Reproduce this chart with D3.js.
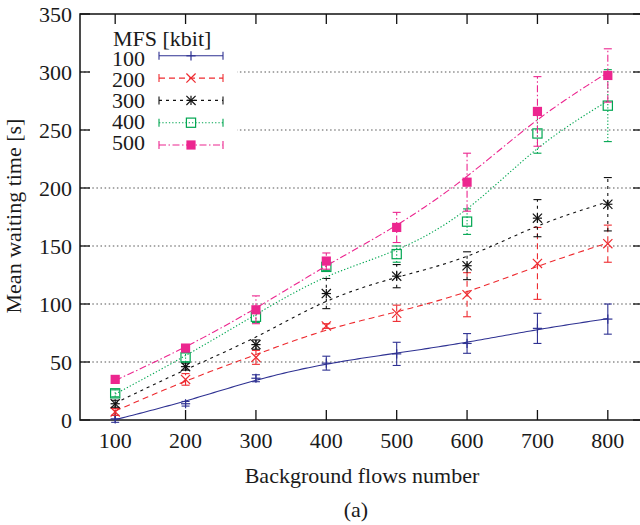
<!DOCTYPE html>
<html>
<head>
<meta charset="utf-8">
<script src="https://cdn.jsdelivr.net/npm/d3@7"></script>
<style>
  html, body { margin: 0; padding: 0; background: #fff; }
  svg { display: block; }
  text { font-family: "Liberation Serif", "Times New Roman", serif; fill: #1a1a1a; }
</style>
</head>
<body>
<svg id="chart" width="640" height="525"></svg>
<script>
// Background flow counts on the x axis
const flows = [100, 200, 300, 400, 500, 600, 700, 800];

// Mean waiting time [s] per MFS setting, with half-width of the error bar
const mfs100 = [1, 14, 36, 49, 57, 66, 79, 87];
const err100 = [3, 2, 3, 6, 10, 8.5, 13, 13];
const mfs200 = [7, 35, 54, 81, 92, 108, 135, 152];
const err200 = [3, 5, 6, 2, 7, 19, 31, 16];
const mfs300 = [14, 46, 65, 109, 124, 133, 174, 186];
const err300 = [3, 3, 4, 13, 10, 12, 16, 23];
const mfs400 = [23, 54, 89, 132, 143, 171, 247, 271];
const err400 = [3, 4, 5, 3, 7, 11, 17, 31];
const mfs500 = [35, 62, 95, 137, 166, 205, 266, 297];
const err500 = [2, 3, 12, 7, 13, 25, 30, 23];

const seriesNames = ["100", "200", "300", "400", "500"];
const yTicks = [0, 50, 100, 150, 200, 250, 300, 350];
const xTicks = [100, 200, 300, 400, 500, 600, 700, 800];

const series = [
  { name: seriesNames[0], values: mfs100, err: err100, color: "#2e3192", dash: null,            marker: "plus" },
  { name: seriesNames[1], values: mfs200, err: err200, color: "#ee2a2f", dash: "6,4",           marker: "cross" },
  { name: seriesNames[2], values: mfs300, err: err300, color: "#111111", dash: "3,4",           marker: "star" },
  { name: seriesNames[3], values: mfs400, err: err400, color: "#00a651", dash: "1.3,2",         marker: "box" },
  { name: seriesNames[4], values: mfs500, err: err500, color: "#ec268f", dash: "7,2.5,1.5,2.5", marker: "fbox" }
];

const svg = d3.select("#chart");
const plotL = 80, plotR = 643, plotT = 14, plotB = 420;

const x = d3.scaleLinear().domain([50, 850]).range([plotL, plotR]);
const y = d3.scaleLinear().domain([0, 350]).range([plotB, plotT]);

// Cubic smoothing spline (Reinsch), returns evaluator f(x)
function smoothingSpline(xs, ys, lambda) {
  const n = xs.length, m = n - 2;
  const h = d3.range(n - 1).map(i => xs[i + 1] - xs[i]);
  const Q = Array.from({ length: n }, () => new Array(m).fill(0));
  const R = Array.from({ length: m }, () => new Array(m).fill(0));
  for (let j = 1; j <= m; j++) {
    Q[j - 1][j - 1] = 1 / h[j - 1];
    Q[j][j - 1] = -1 / h[j - 1] - 1 / h[j];
    Q[j + 1][j - 1] = 1 / h[j];
    R[j - 1][j - 1] = (h[j - 1] + h[j]) / 3;
    if (j < m) { R[j - 1][j] = h[j] / 6; R[j][j - 1] = h[j] / 6; }
  }
  const A = Array.from({ length: m }, (_, a) => Array.from({ length: m }, (_, b) => {
    let s = 0;
    for (let k = 0; k < n; k++) s += Q[k][a] * Q[k][b];
    return R[a][b] + lambda * s;
  }));
  const rhs = d3.range(m).map(a => d3.sum(d3.range(n), k => Q[k][a] * ys[k]));
  // Gaussian elimination
  for (let i = 0; i < m; i++) {
    for (let r = i + 1; r < m; r++) {
      const f = A[r][i] / A[i][i];
      for (let c = i; c < m; c++) A[r][c] -= f * A[i][c];
      rhs[r] -= f * rhs[i];
    }
  }
  const g = new Array(m).fill(0);
  for (let i = m - 1; i >= 0; i--) {
    let s = rhs[i];
    for (let c = i + 1; c < m; c++) s -= A[i][c] * g[c];
    g[i] = s / A[i][i];
  }
  const fit = ys.map((v, k) => v - lambda * d3.sum(d3.range(m), a => Q[k][a] * g[a]));
  const gam = [0, ...g, 0];
  return function (t) {
    const i = Math.min(n - 2, Math.max(0, d3.bisectRight(xs, t) - 1));
    const hi = h[i], a = t - xs[i], b = xs[i + 1] - t;
    return (a * fit[i + 1] + b * fit[i]) / hi
      - (a * b / 6) * ((1 + a / hi) * gam[i + 1] + (1 + b / hi) * gam[i]);
  };
}

// Horizontal dotted grid
svg.append("g").selectAll("line").data(yTicks.filter(d => d > 0 && d < 350)).join("line")
  .attr("x1", plotL).attr("x2", plotR)
  .attr("y1", d => y(d)).attr("y2", d => y(d))
  .attr("stroke", "#555").attr("stroke-width", 1.2)
  .attr("stroke-dasharray", "1.5,2.6");

// Legend background hides the grid behind it
svg.append("rect").attr("x", 92).attr("y", 20).attr("width", 145).attr("height", 140).attr("fill", "#fff");

// Frame
svg.append("rect").attr("x", plotL).attr("y", plotT).attr("width", plotR - plotL).attr("height", plotB - plotT)
  .attr("fill", "none").attr("stroke", "#111").attr("stroke-width", 1.5);

// Tick marks on all four sides (inward)
const tl = 10;
const tickG = svg.append("g").attr("stroke", "#111").attr("stroke-width", 1.3);
yTicks.forEach(v => {
  tickG.append("line").attr("x1", plotL).attr("x2", plotL + tl).attr("y1", y(v)).attr("y2", y(v));
  tickG.append("line").attr("x1", plotR).attr("x2", plotR - tl).attr("y1", y(v)).attr("y2", y(v));
});
xTicks.forEach(v => {
  tickG.append("line").attr("x1", x(v)).attr("x2", x(v)).attr("y1", plotB).attr("y2", plotB - tl);
  tickG.append("line").attr("x1", x(v)).attr("x2", x(v)).attr("y1", plotT).attr("y2", plotT + tl);
});

// Tick labels
svg.append("g").selectAll("text").data(yTicks).join("text")
  .attr("x", 72).attr("y", d => y(d) + 8.2)
  .attr("text-anchor", "end").attr("font-size", 22)
  .text(d => d);
svg.append("g").selectAll("text").data(xTicks).join("text")
  .attr("x", d => x(d)).attr("y", 448)
  .attr("text-anchor", "middle").attr("font-size", 22)
  .text(d => d);

// Axis titles and caption
svg.append("text").attr("x", 362).attr("y", 483).attr("text-anchor", "middle").attr("font-size", 22)
  .text("Background flows number");
svg.append("text").attr("x", 356).attr("y", 517).attr("text-anchor", "middle").attr("font-size", 22)
  .text("(a)");
svg.append("text").attr("transform", "translate(21,216) rotate(-90)").attr("text-anchor", "middle")
  .attr("font-size", 22).text("Mean waiting time [s]");

// Marker shapes
function drawMarker(g, type, cx, cy, color) {
  const r = 4.6;
  const s = g.append("g").attr("stroke", color).attr("stroke-width", 1.2).attr("fill", "none");
  if (type === "plus" || type === "star") {
    s.append("line").attr("x1", cx - r).attr("x2", cx + r).attr("y1", cy).attr("y2", cy);
    s.append("line").attr("x1", cx).attr("x2", cx).attr("y1", cy - r).attr("y2", cy + r);
  }
  if (type === "cross" || type === "star") {
    s.append("line").attr("x1", cx - r).attr("x2", cx + r).attr("y1", cy - r).attr("y2", cy + r);
    s.append("line").attr("x1", cx - r).attr("x2", cx + r).attr("y1", cy + r).attr("y2", cy - r);
  }
  if (type === "box") {
    s.append("rect").attr("x", cx - r).attr("y", cy - r).attr("width", 2 * r).attr("height", 2 * r);
  }
  if (type === "fbox") {
    s.append("rect").attr("x", cx - r).attr("y", cy - r).attr("width", 2 * r).attr("height", 2 * r)
      .attr("fill", color).attr("stroke", "none");
  }
}

const capW = 4;
const xs100 = flows.map(d => d / 100);
const plot = svg.append("g");

series.forEach(s => {
  const g = plot.append("g");
  const f = smoothingSpline(xs100, s.values, 0.18);
  const samples = d3.range(flows[0], flows[flows.length - 1] + 0.001, 5);
  const line = d3.line().x(d => x(d)).y(d => y(f(d / 100)));
  g.append("path").attr("d", line(samples))
    .attr("fill", "none").attr("stroke", s.color).attr("stroke-width", 1.1)
    .attr("stroke-dasharray", s.dash);

  // error bars
  flows.forEach((fl, i) => {
    const lo = y(s.values[i] - s.err[i]), hi = y(s.values[i] + s.err[i]), cx = x(fl);
    const eb = g.append("g").attr("stroke", s.color).attr("stroke-width", 1.1).attr("fill", "none");
    eb.append("line").attr("x1", cx).attr("x2", cx).attr("y1", lo).attr("y2", hi).attr("stroke-dasharray", s.dash);
    eb.append("line").attr("x1", cx - capW).attr("x2", cx + capW).attr("y1", lo).attr("y2", lo);
    eb.append("line").attr("x1", cx - capW).attr("x2", cx + capW).attr("y1", hi).attr("y2", hi);
  });
  flows.forEach((fl, i) => drawMarker(g, s.marker, x(fl), y(s.values[i]), s.color));
});

// Legend
const leg = svg.append("g");
leg.append("text").attr("x", 113).attr("y", 46).attr("font-size", 22).text("MFS [kbit]");
series.forEach((s, i) => {
  const by = 65.7 + i * 21.1;
  const ly = 55.8 + i * 22.3;
  leg.append("text").attr("x", 145).attr("y", by).attr("text-anchor", "end").attr("font-size", 22).text(s.name);
  const x1 = 159, x2 = 223;
  const lg = leg.append("g").attr("stroke", s.color).attr("stroke-width", 1.1);
  lg.append("line").attr("x1", x1).attr("x2", x2).attr("y1", ly).attr("y2", ly).attr("stroke-dasharray", s.dash);
  lg.append("line").attr("x1", x1).attr("x2", x1).attr("y1", ly - 4).attr("y2", ly + 4);
  lg.append("line").attr("x1", x2).attr("x2", x2).attr("y1", ly - 4).attr("y2", ly + 4);
  drawMarker(leg, s.marker, 191, ly, s.color);
});
</script>
</body>
</html>
